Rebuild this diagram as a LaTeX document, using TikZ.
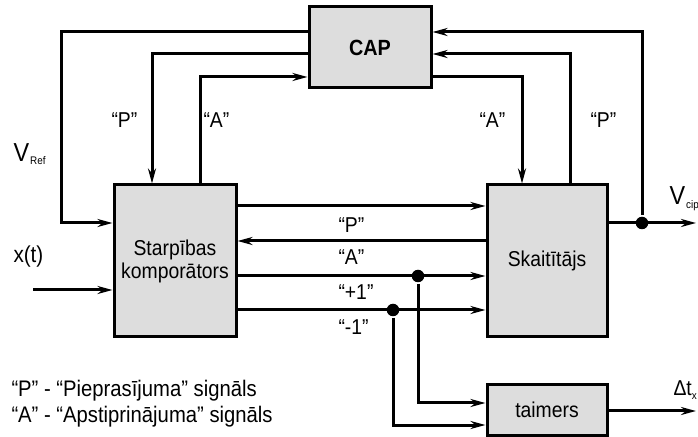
\documentclass[tikz,border=0pt]{standalone}
\usepackage{fontspec}
\setmainfont{Liberation Sans}[FakeStretch=0.9]
\usetikzlibrary{arrows.meta}
\definecolor{boxgray}{RGB}{221,221,221}
\begin{document}
\begin{tikzpicture}[x=1pt, y=1pt, line width=3pt,
    >={Stealth[length=15pt,width=8pt]},
    every node/.style={font=\fontsize{21.5}{23}\selectfont, inner sep=0pt},
    blok/.style={draw, fill=boxgray, align=center},
    dot/.style={circle, fill, inner sep=0pt, minimum size=12.5pt},
    lbl/.style={anchor=base west}]
    \useasboundingbox (0,0) rectangle (698,436);
    % blocks
    \node[blok, minimum width=122pt, minimum height=81pt] (cap) at (370,388.5) {\fontsize{22}{24}\selectfont\bfseries CAP};
    \node[blok, minimum width=122pt, minimum height=152pt] (starp) at (175,175) {Starpības\\komporātors};
    \node[blok, minimum width=120pt, minimum height=152pt] (skait) at (547,175) {Skaitītājs};
    \node[blok, minimum width=120pt, minimum height=50pt] (taim) at (547,26) {taimers};
    \coordinate (xin) at (33,146);
    \coordinate (vout) at (696,213);
    \coordinate (tout) at (696,25);
    \node[dot] (j1) at (418,160) {};
    \node[dot] (j2) at (393,126) {};
    \node[dot] (j3) at (642,213) {};
    % loops through CAP
    \draw[->] (cap.west |- 0,404) -| (61,213) -- (starp.west |- 0,213);
    \draw[->] (cap.west |- 0,382) -| (starp.north -| 152,0);
    \draw[->] (starp.north -| 200,0) |- (cap.west |- 0,359);
    \draw[->] (cap.east |- 0,359) -| (skait.north -| 522,0);
    \draw[->] (skait.north -| 570,0) |- (cap.east |- 0,382);
    \draw[->] (j3) |- (cap.east |- 0,404);
    % signals between blocks
    \draw[->] (xin) -- (starp.west |- xin);
    \draw[->] (starp.east |- 0,230) -- (skait.west |- 0,230);
    \draw[->] (skait.west |- 0,195) -- (starp.east |- 0,195);
    \draw[->] (starp.east |- j1) -- (skait.west |- j1);
    \draw[->] (starp.east |- j2) -- (skait.west |- j2);
    \draw[->] (j1) |- (taim.west |- 0,33);
    \draw[->] (j2) |- (taim.west |- 0,11);
    \draw[->] (skait.east |- j3) -- (vout);
    \draw[->] (taim.east |- 0,25) -- (tout);
    % labels
    \node[lbl] (lp1) at (110,308) {“P”};
    \node[lbl] (la1) at (202,308) {“A”};
    \node[lbl] (la2) at (478,308) {“A”};
    \node[lbl] (lp2) at (589,308) {“P”};
    \node[lbl] (mp) at (337,203) {“P”};
    \node[lbl] (ma) at (337,171) {“A”};
    \node[lbl] (mplus) at (337,136) {“+1”};
    \node[lbl] (mminus) at (337,101) {“-1”};
    \node[lbl] (xt) at (12,173) {\fontsize{23}{24}\selectfont x(t)};
    \node[lbl] (vref) at (12,274) {\fontsize{26}{28}\selectfont V\hspace{1pt}\raisebox{-3pt}{\fontsize{11}{11}\selectfont Ref}};
    \node[lbl] (vcip) at (668,231) {\fontsize{26}{28}\selectfont V\hspace{1pt}\raisebox{-4pt}{\fontsize{11}{11}\selectfont cip}};
    \node[lbl] (dtx) at (672,41) {Δt\raisebox{-5pt}{\fontsize{11}{11}\selectfont x}};
    \node[lbl] (leg1) at (10,39) {\fontsize{22.5}{24}\selectfont “P” - “Pieprasījuma” signāls};
    \node[lbl] (leg2) at (10,13) {\fontsize{22.5}{24}\selectfont “A” - “Apstiprinājuma” signāls};
\end{tikzpicture}
\end{document}
